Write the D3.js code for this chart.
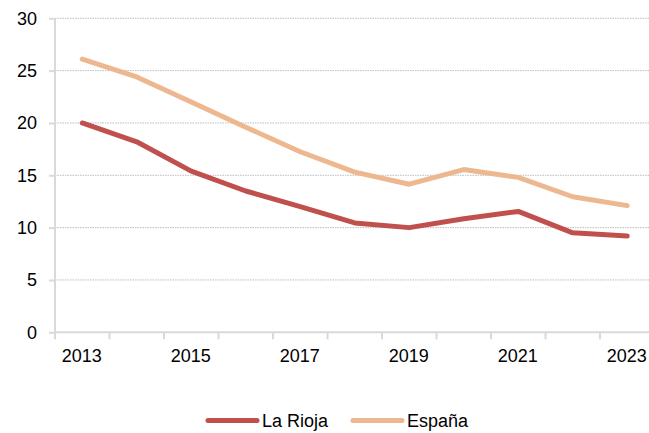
<!DOCTYPE html>
<html>
<head>
<meta charset="utf-8">
<script src="https://cdn.jsdelivr.net/npm/d3@7"></script>
<style>
  body { margin: 0; background: #fff; }
  text { font-family: "Liberation Sans", Arial, sans-serif; fill: #000; }
</style>
</head>
<body>
<svg id="chart" width="649" height="433"></svg>
<script>
// years on the category axis, only every other one gets a label
var years = [2013, 2014, 2015, 2016, 2017, 2018, 2019, 2020, 2021, 2022, 2023];
var laRioja = [20.0, 18.2, 15.4, 13.5, 12.0, 10.45, 10.0, 10.85, 11.55, 9.5, 9.2];
var espana = [26.1, 24.4, 22.0, 19.6, 17.25, 15.3, 14.15, 15.55, 14.8, 12.95, 12.1];
var yTicks = [0, 5, 10, 15, 20, 25, 30];
var seriesNames = ["La Rioja", "España"];
var seriesColors = ["#c0504d", "#edb890"];

var svg = d3.select("#chart");
var plotLeft = 55, plotRight = 654.5, plotTop = 18.3, plotBottom = 332.3;

var x = d3.scaleBand().domain(years).range([plotLeft, plotRight]).padding(0);
var y = d3.scaleLinear().domain([0, 30]).range([plotBottom, plotTop]);

// dotted gridlines
svg.append("g").selectAll("line").data(yTicks.filter(function(d){ return d > 0; })).enter().append("line")
    .attr("x1", plotLeft).attr("x2", 649)
    .attr("y1", function(d){ return y(d); }).attr("y2", function(d){ return y(d); })
    .style("stroke", "#bdbdbd").style("stroke-width", 1).style("stroke-dasharray", "1.5,1");

// y axis
var yAxis = svg.append("g").attr("transform", "translate(" + plotLeft + ",0)")
    .call(d3.axisLeft(y).tickValues(yTicks).tickSize(6).tickPadding(12));
yAxis.select(".domain").remove();
yAxis.selectAll(".tick line").style("stroke", "#d9d9d9").style("stroke-width", 2);
yAxis.selectAll("text").style("font-size", "18px").style("font-family", "Liberation Sans, Arial, sans-serif").style("fill", "#000");
svg.append("line").attr("x1", plotLeft).attr("x2", plotLeft).attr("y1", plotTop).attr("y2", plotBottom + 1)
    .style("stroke", "#d9d9d9").style("stroke-width", 2);

// x axis: ticks between categories
var xg = svg.append("g");
xg.append("line").attr("x1", plotLeft).attr("x2", 649).attr("y1", plotBottom).attr("y2", plotBottom)
    .style("stroke", "#d9d9d9").style("stroke-width", 2);
xg.selectAll("line.tk").data(years).enter().append("line").attr("class", "tk")
    .attr("x1", function(d){ return x(d); }).attr("x2", function(d){ return x(d); })
    .attr("y1", plotBottom).attr("y2", plotBottom + 7)
    .style("stroke", "#d9d9d9").style("stroke-width", 2);
xg.selectAll("text").data(years.filter(function(d, i){ return i % 2 == 0; })).enter().append("text")
    .attr("x", function(d){ return x(d) + x.bandwidth() / 2 - 0.5; })
    .attr("y", 361.5)
    .attr("text-anchor", "middle")
    .style("font-size", "18px")
    .text(function(d){ return d; });

// lines
var line = d3.line()
    .x(function(d, i){ return x(years[i]) + x.bandwidth() / 2; })
    .y(function(d){ return y(d); });

[espana, laRioja].forEach(function(vals){
    var idx = vals === laRioja ? 0 : 1;
    svg.append("path").datum(vals)
        .attr("d", line)
        .style("fill", "none")
        .style("stroke", seriesColors[idx])
        .style("stroke-width", 5)
        .style("stroke-linejoin", "round")
        .style("stroke-linecap", "round");
});

// legend
var legendX = [208, 353];
var lg = svg.append("g").selectAll("g").data(seriesNames).enter().append("g")
    .attr("transform", function(d, i){ return "translate(" + legendX[i] + ",420.5)"; });
lg.append("line").attr("x1", 0).attr("x2", 49).attr("y1", 0).attr("y2", 0)
    .style("stroke", function(d, i){ return seriesColors[i]; })
    .style("stroke-width", 5).style("stroke-linecap", "round");
lg.append("text").attr("x", 54).attr("y", 6.5)
    .style("font-size", "18px")
    .text(function(d){ return d; });
</script>
</body>
</html>
